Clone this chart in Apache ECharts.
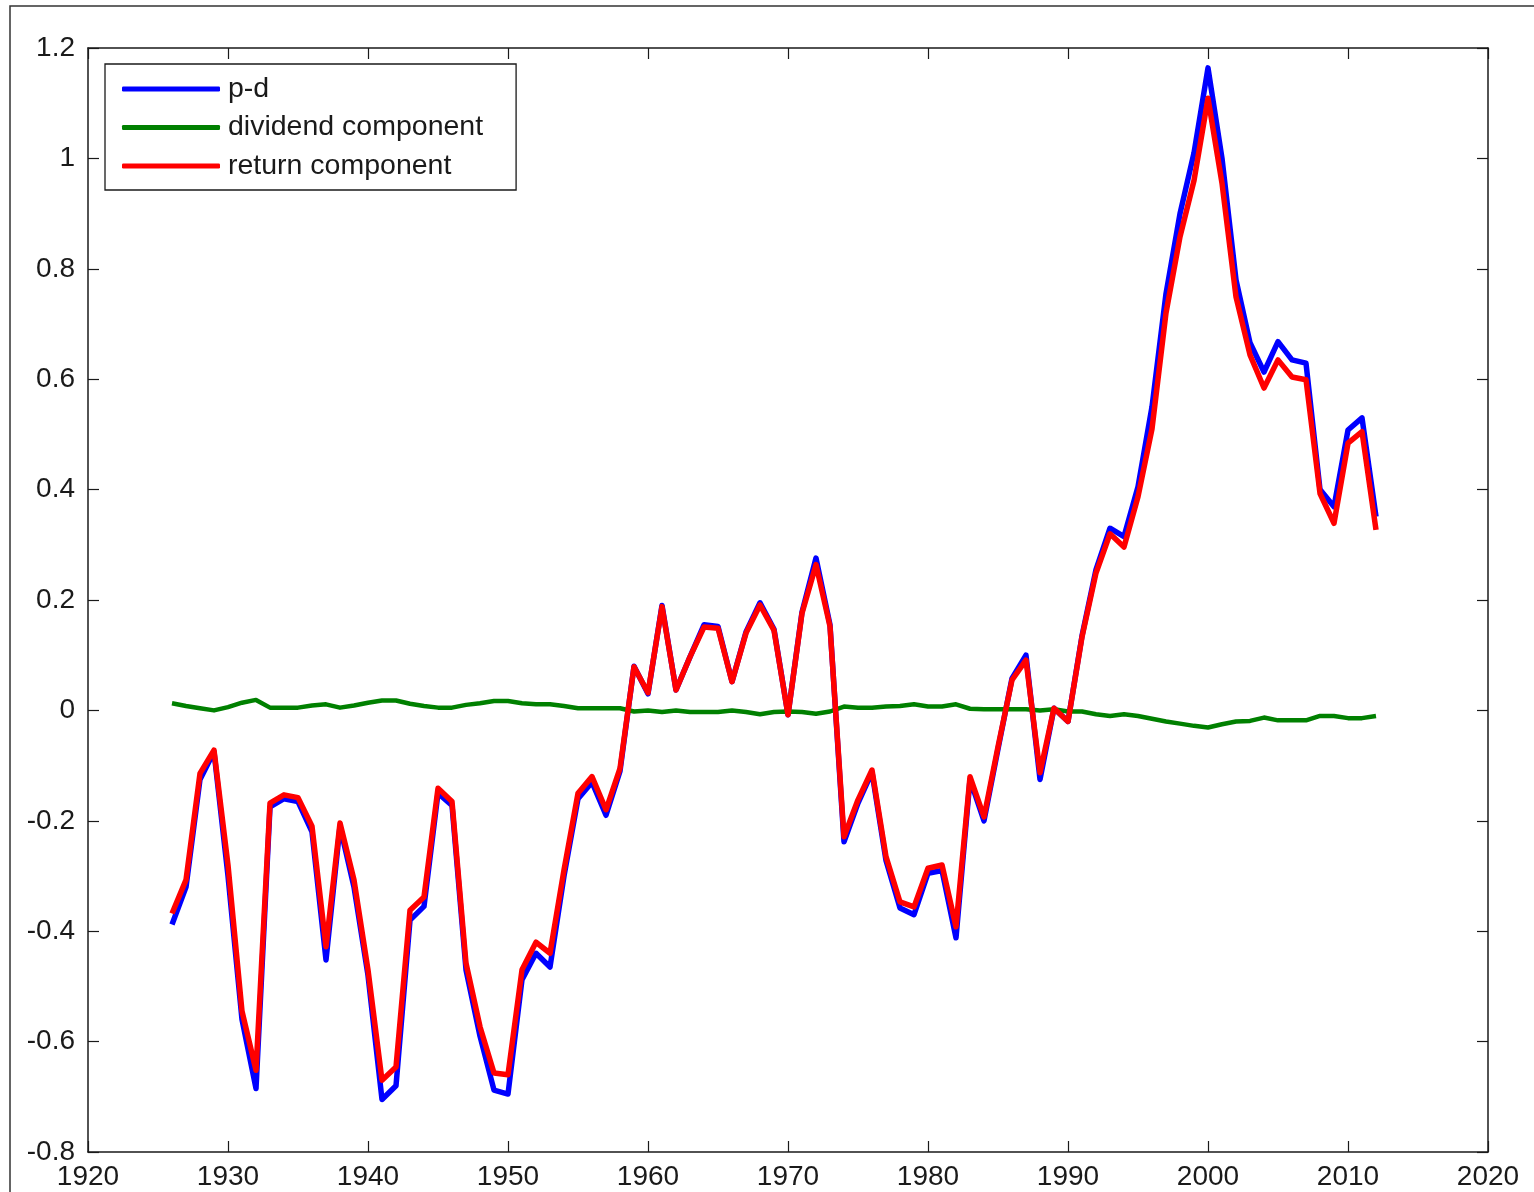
<!DOCTYPE html>
<html>
<head>
<meta charset="utf-8">
<script src="https://cdn.jsdelivr.net/npm/echarts@6/dist/echarts.min.js"></script>
<style>
  html, body { margin: 0; padding: 0; background: #fff; }
  #chart { width: 1534px; height: 1192px; }
</style>
</head>
<body>
<div id="chart"></div>
<script>
// Annual observations, 1926-2012
const years = [];
for (let y = 1926; y <= 2012; y++) years.push(y);

// log price-dividend ratio (demeaned)
const pd = [
  -0.388, -0.32, -0.125, -0.075, -0.30, -0.56, -0.685, -0.175, -0.16, -0.165,
  -0.22, -0.452, -0.21, -0.32, -0.48, -0.705, -0.68, -0.38, -0.355, -0.15,
  -0.172, -0.47, -0.59, -0.688, -0.695, -0.488, -0.44, -0.465, -0.30, -0.16,
  -0.13, -0.19, -0.11, 0.08, 0.03, 0.19, 0.037, 0.097, 0.155, 0.152,
  0.052, 0.142, 0.195, 0.147, -0.008, 0.178, 0.276, 0.155, -0.238, -0.168,
  -0.112, -0.272, -0.358, -0.37, -0.295, -0.29, -0.412, -0.125, -0.2, -0.07,
  0.058, 0.1, -0.125, 0.004, -0.02, 0.135, 0.255, 0.33, 0.315, 0.405,
  0.55, 0.755, 0.90, 1.01, 1.164, 1.0, 0.78, 0.666, 0.613, 0.668,
  0.635, 0.629, 0.40, 0.369, 0.508, 0.53, 0.351
];

// dividend-growth component
const dividendComp = [
  0.013, 0.008, 0.004, 0.0, 0.006, 0.014, 0.019, 0.005, 0.005, 0.005,
  0.009, 0.011, 0.005, 0.009, 0.014, 0.018, 0.018, 0.012, 0.008, 0.005,
  0.005, 0.01, 0.013, 0.017, 0.017, 0.013, 0.011, 0.011, 0.008, 0.004,
  0.004, 0.004, 0.004, -0.002, 0.0, -0.003, 0.0, -0.003, -0.003, -0.003,
  0.0, -0.003, -0.007, -0.003, -0.002, -0.003, -0.006, -0.002, 0.007, 0.005,
  0.005, 0.007, 0.008, 0.011, 0.007, 0.007, 0.011, 0.003, 0.002, 0.002,
  0.002, 0.002, 0.0, 0.002, -0.002, -0.002, -0.007, -0.01, -0.007, -0.01,
  -0.015, -0.02, -0.024, -0.028, -0.031, -0.025, -0.02, -0.019, -0.013, -0.018,
  -0.018, -0.018, -0.01, -0.01, -0.014, -0.014, -0.01
];

// return component
const returnComp = [
  -0.368, -0.307, -0.114, -0.072, -0.28, -0.545, -0.652, -0.168, -0.153, -0.158,
  -0.21, -0.428, -0.204, -0.307, -0.47, -0.67, -0.646, -0.362, -0.338, -0.141,
  -0.165, -0.458, -0.573, -0.657, -0.66, -0.47, -0.42, -0.44, -0.289, -0.15,
  -0.12, -0.18, -0.105, 0.079, 0.032, 0.188, 0.037, 0.097, 0.151, 0.149,
  0.052, 0.14, 0.191, 0.145, -0.008, 0.176, 0.264, 0.152, -0.229, -0.162,
  -0.108, -0.265, -0.347, -0.356, -0.286, -0.28, -0.392, -0.12, -0.193, -0.066,
  0.055, 0.091, -0.113, 0.004, -0.02, 0.133, 0.249, 0.32, 0.296, 0.387,
  0.51, 0.72, 0.858, 0.96, 1.109, 0.955, 0.749, 0.644, 0.584, 0.635,
  0.604, 0.599, 0.393, 0.339, 0.484, 0.505, 0.327
];

const seriesNames = ['p-d', 'dividend component', 'return component'];
const seriesColors = ['#0000ff', '#008000', '#ff0000'];

const pairs = vals => years.map((y, i) => [y, vals[i]]);

const FONT = "'Liberation Sans', Arial, sans-serif";
const INK = '#1a1a1a';

const frameAxis = (extra) => Object.assign({
  axisLine: { show: true, onZero: false, lineStyle: { color: INK, width: 1.5 } },
  axisTick: { show: true, inside: true, length: 11, lineStyle: { color: INK, width: 1.2 } },
  splitLine: { show: false }
}, extra);

const chart = echarts.init(document.getElementById('chart'), null, { renderer: 'canvas' });

chart.setOption({
  animation: false,
  backgroundColor: '#fff',
  grid: { left: 88, top: 48, width: 1400, height: 1104, containLabel: false },
  graphic: [{
    type: 'rect',
    silent: true,
    shape: { x: 10, y: 6, width: 1700, height: 1400 },
    style: { fill: null, stroke: '#333', lineWidth: 1.5 },
    z: -10
  }],
  legend: {
    orient: 'vertical',
    left: 105,
    top: 64,
    padding: [10, 33, 9, 17],
    icon: 'roundRect',
    itemWidth: 98,
    itemHeight: 5,
    itemGap: 8.5,
    backgroundColor: '#fff',
    borderColor: INK,
    borderWidth: 1.3,
    borderRadius: 0,
    textStyle: { fontSize: 28.5, color: INK, fontFamily: FONT, lineHeight: 30, padding: [0, 0, 0, 3] },
    data: seriesNames
  },
  xAxis: [
    frameAxis({
      type: 'value', position: 'bottom', min: 1920, max: 2020, interval: 10,
      axisLabel: { fontSize: 28, color: INK, fontFamily: FONT, margin: 11,
                   formatter: v => String(v) }
    }),
    frameAxis({
      type: 'value', position: 'top', min: 1920, max: 2020, interval: 10,
      axisLabel: { show: false }
    })
  ],
  yAxis: [
    frameAxis({
      type: 'value', position: 'left', min: -0.8, max: 1.2, interval: 0.2,
      axisLabel: { fontSize: 28, color: INK, fontFamily: FONT, margin: 13 }
    }),
    frameAxis({
      type: 'value', position: 'right', min: -0.8, max: 1.2, interval: 0.2,
      axisLabel: { show: false }
    })
  ],
  series: [
    { name: seriesNames[0], type: 'line', data: pairs(pd), symbol: 'none',
      color: seriesColors[0], lineStyle: { width: 5.5, color: seriesColors[0], join: 'round' }, z: 2 },
    { name: seriesNames[1], type: 'line', data: pairs(dividendComp), symbol: 'none',
      color: seriesColors[1], lineStyle: { width: 4.5, color: seriesColors[1], join: 'round' }, z: 3 },
    { name: seriesNames[2], type: 'line', data: pairs(returnComp), symbol: 'none',
      color: seriesColors[2], lineStyle: { width: 5.5, color: seriesColors[2], join: 'round' }, z: 4 }
  ]
});
</script>
</body>
</html>
